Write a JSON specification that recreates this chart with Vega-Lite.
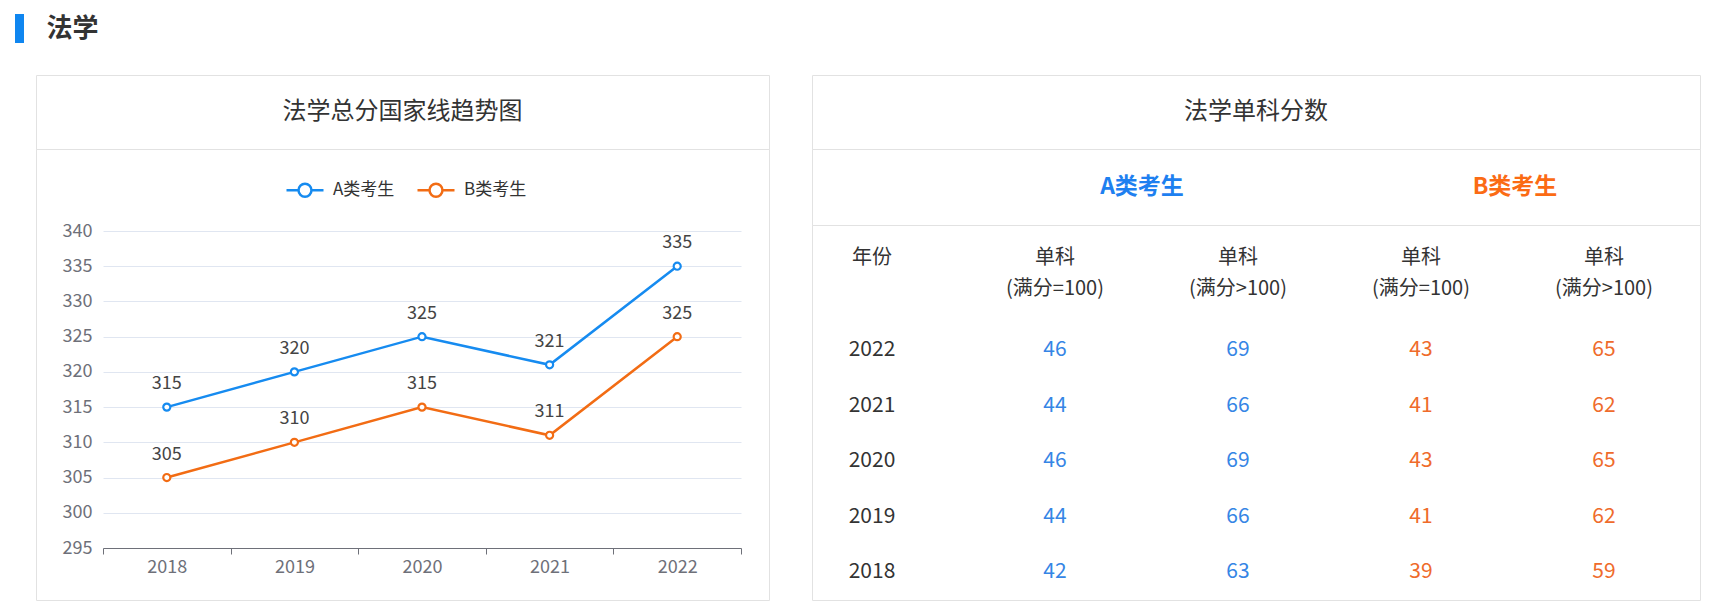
{
  "$schema": "https://vega.github.io/schema/vega-lite/v6.json",
  "background": "white",
  "padding": {"left": 15, "top": 14, "right": 16, "bottom": 14},
  "config": {
    "font": "Noto Sans CJK SC",
    "view": {"stroke": null}
  },
  "spacing": 31,
  "resolve": {"scale": {"color": "independent"}, "legend": {"color": "independent"}},
  "vconcat": [
    {
      "spacing": 20,
      "bounds": "flush",
      "hconcat": [
        {"width": 9, "height": 29, "view": {"fill": "#0f86f0", "stroke": null}, "data": {"values": []}, "mark": "point"},
        {"width": 57, "height": 29, "data": {"values": [{"t": "法学"}]},
         "mark": {"type": "text", "fontSize": 26, "fontWeight": "bold", "color": "#333333"},
         "encoding": {"text": {"field": "t"}}}
      ]
    },
    {
      "spacing": 0,
      "resolve": {"scale": {"color": "independent"}, "legend": {"color": "independent"}},
      "hconcat": [
        {"width": 20, "height": 10, "data": {"values": []}, "mark": "point"},
        {
          "spacing": 41,
          "resolve": {"scale": {"color": "independent"}, "legend": {"color": "independent"}},
          "hconcat": [
            {
              "spacing": 0,
              "bounds": "flush",
              "resolve": {"scale": {"color": "independent"}, "legend": {"color": "independent"}},
              "vconcat": [
                {"width": 733, "height": 74, "view": {"stroke": "#e2e2e2"},
                 "data": {"values": [{"t": "法学总分国家线趋势图"}]},
                 "mark": {"type": "text", "fontSize": 24, "color": "#333333"},
                 "encoding": {"text": {"field": "t"}}},
                {"width": 733, "height": 451, "view": {"stroke": "#e2e2e2"},
                 "data": {"values": [
                   {"year": "2018", "type": "A类考生", "score": 315},
                   {"year": "2019", "type": "A类考生", "score": 320},
                   {"year": "2020", "type": "A类考生", "score": 325},
                   {"year": "2021", "type": "A类考生", "score": 321},
                   {"year": "2022", "type": "A类考生", "score": 335},
                   {"year": "2018", "type": "B类考生", "score": 305},
                   {"year": "2019", "type": "B类考生", "score": 310},
                   {"year": "2020", "type": "B类考生", "score": 315},
                   {"year": "2021", "type": "B类考生", "score": 311},
                   {"year": "2022", "type": "B类考生", "score": 325}
                 ]},
                 "encoding": {
                   "x": {"field": "year", "type": "ordinal",
                         "scale": {"type": "band", "range": [67, 705], "paddingInner": 0, "paddingOuter": 0},
                         "axis": {"title": null, "orient": "bottom", "offset": -52, "tickBand": "extent", "tickSize": 6,
                                  "tickColor": "#6e7079", "domainColor": "#6e7079", "labelColor": "#6e7079",
                                  "labelFontSize": 18, "labelPadding": 4, "labelAngle": 0, "grid": false}},
                   "y": {"field": "score", "type": "quantitative",
                         "scale": {"domain": [295, 340], "range": [399, 82], "nice": false, "zero": false},
                         "axis": {"title": null, "offset": -67, "values": [295, 300, 305, 310, 315, 320, 325, 330, 335, 340],
                                  "domain": false, "ticks": false, "labelColor": "#6e7079", "labelFontSize": 18,
                                  "labelPadding": 11, "grid": true, "gridColor": "#e0e6f1"}}
                 },
                 "layer": [
                   {"mark": {"type": "line", "strokeWidth": 2.5},
                    "encoding": {"color": {"field": "type", "type": "nominal",
                      "scale": {"domain": ["A类考生", "B类考生"], "range": ["#168bf0", "#f26c14"]},
                      "legend": {"orient": "none", "legendX": 249, "legendY": 21, "direction": "horizontal", "title": null,
                                 "padding": 0, "symbolType": "M-1,0L-0.35,0M0.35,0A0.35,0.35 0 1,1 -0.35,0A0.35,0.35 0 1,1 0.35,0M0.35,0L1,0",
                                 "symbolSize": 1369, "symbolStrokeWidth": 2.5, "symbolFillColor": "white",
                                 "labelFontSize": 17, "labelColor": "#333333", "labelOffset": 8, "columnPadding": 17}}}},
                   {"mark": {"type": "point", "shape": "circle", "filled": false, "fill": "white", "fillOpacity": 1, "opacity": 1, "size": 50, "strokeWidth": 2.2},
                    "encoding": {"color": {"field": "type", "type": "nominal", "legend": null}}},
                   {"mark": {"type": "text", "dy": -23, "fontSize": 18, "color": "#444444"},
                    "encoding": {"text": {"field": "score"}}}
                 ]}
              ]
            },
            {
              "spacing": 0,
              "bounds": "flush",
              "resolve": {"scale": {"color": "independent"}, "legend": {"color": "independent"}},
              "vconcat": [
                {"width": 888, "height": 74, "view": {"stroke": "#e2e2e2"},
                 "data": {"values": [{"t": "法学单科分数"}]},
                 "mark": {"type": "text", "fontSize": 24, "color": "#333333"},
                 "encoding": {"text": {"field": "t"}}},
                {"width": 888, "height": 76, "view": {"stroke": "#e2e2e2"},
                 "data": {"values": [{"g": "A类考生"}, {"g": "B类考生"}]},
                 "mark": {"type": "text", "fontSize": 23, "fontWeight": "bold"},
                 "encoding": {
                   "x": {"field": "g", "type": "nominal", "scale": {"type": "point", "range": [330, 703], "padding": 0}, "axis": null},
                   "text": {"field": "g"},
                   "color": {"field": "g", "type": "nominal", "scale": {"range": ["#1e80f0", "#fb6b14"]}, "legend": null}
                 }},
                {"width": 888, "height": 375, "view": {"stroke": "#e2e2e2"},
                 "data": {"values": [
                   {"year": "2022", "A_100": 46, "A_over100": 69, "B_100": 43, "B_over100": 65},
                   {"year": "2021", "A_100": 44, "A_over100": 66, "B_100": 41, "B_over100": 62},
                   {"year": "2020", "A_100": 46, "A_over100": 69, "B_100": 43, "B_over100": 65},
                   {"year": "2019", "A_100": 44, "A_over100": 66, "B_100": 41, "B_over100": 62},
                   {"year": "2018", "A_100": 42, "A_over100": 63, "B_100": 39, "B_over100": 59}
                 ]},
                 "resolve": {"scale": {"y": "independent"}},
                 "layer": [
                   {"mark": {"type": "text", "fontSize": 21, "color": "#333333"},
                    "encoding": {
                      "x": {"datum": "年份", "type": "nominal",
                            "scale": {"type": "point", "domain": ["年份", "A_100", "A_over100", "B_100", "B_over100"], "range": [60, 792], "padding": 0}, "axis": null},
                      "y": {"field": "year", "type": "ordinal", "sort": "descending", "scale": {"type": "point", "range": [125, 347], "padding": 0}, "axis": null},
                      "text": {"field": "year"}
                    }},
                   {"transform": [{"fold": ["A_100", "A_over100", "B_100", "B_over100"], "as": ["key", "val"]}],
                    "mark": {"type": "text", "fontSize": 21},
                    "encoding": {
                      "x": {"field": "key", "type": "nominal",
                            "scale": {"type": "point", "domain": ["年份", "A_100", "A_over100", "B_100", "B_over100"], "range": [60, 792], "padding": 0}, "axis": null},
                      "y": {"field": "year", "type": "ordinal", "sort": "descending", "scale": {"type": "point", "range": [125, 347], "padding": 0}, "axis": null},
                      "text": {"field": "val"},
                      "color": {"field": "key", "type": "nominal",
                                "scale": {"domain": ["A_100", "A_over100", "B_100", "B_over100"], "range": ["#3585e5", "#3585e5", "#ef6b2b", "#ef6b2b"]},
                                "legend": null}
                    }},
                   {"data": {"values": [
                      {"col": "年份", "line": "l1", "t": "年份"},
                      {"col": "A_100", "line": "l1", "t": "单科"},
                      {"col": "A_100", "line": "l2", "t": "(满分=100)"},
                      {"col": "A_over100", "line": "l1", "t": "单科"},
                      {"col": "A_over100", "line": "l2", "t": "(满分>100)"},
                      {"col": "B_100", "line": "l1", "t": "单科"},
                      {"col": "B_100", "line": "l2", "t": "(满分=100)"},
                      {"col": "B_over100", "line": "l1", "t": "单科"},
                      {"col": "B_over100", "line": "l2", "t": "(满分>100)"}
                    ]},
                    "mark": {"type": "text", "fontSize": 20, "color": "#333333"},
                    "encoding": {
                      "x": {"field": "col", "type": "nominal",
                            "scale": {"type": "point", "domain": ["年份", "A_100", "A_over100", "B_100", "B_over100"], "range": [60, 792], "padding": 0}, "axis": null},
                      "y": {"field": "line", "type": "ordinal", "scale": {"type": "point", "domain": ["l1", "l2"], "range": [33, 64], "padding": 0}, "axis": null},
                      "text": {"field": "t"}
                    }}
                 ]}
              ]
            }
          ]
        }
      ]
    }
  ]
}
